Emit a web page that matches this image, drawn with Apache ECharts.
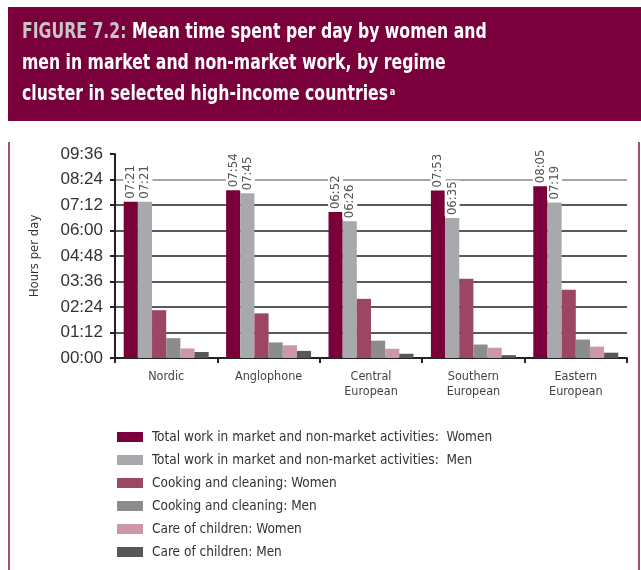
<!DOCTYPE html>
<html>
<head>
<meta charset="utf-8">
<script src="https://cdn.jsdelivr.net/npm/echarts@6/dist/echarts.min.js"></script>
<style>
  html, body { margin: 0; padding: 0; background: #fff; }
  #chart { width: 641px; height: 570px; }
</style>
</head>
<body>
<div id="chart"></div>
<script>
"use strict";

// categories and values (minutes per day)
var categories = ['Nordic', 'Anglophone', 'Central\nEuropean', 'Southern\nEuropean', 'Eastern\nEuropean'];
var seriesNames = [
    'Total work in market and non-market activities:  Women',
    'Total work in market and non-market activities:  Men',
    'Cooking and cleaning: Women',
    'Cooking and cleaning: Men',
    'Care of children: Women',
    'Care of children: Men'
];
var totalWomen = [441, 474, 412, 473, 485];
var totalMen = [441, 465, 386, 395, 439];
var cookWomen = [135, 126, 167, 224, 193];
var cookMen = [56, 44, 49, 38, 52];
var careWomen = [27, 36, 26, 29, 32];
var careMen = [17, 20, 12, 8, 15];

var colors = ['#7a003a', '#a8a9ad', '#9c4664', '#8b8c8e', '#cc97a8', '#58585a'];

var narrow = "'DejaVu Sans Condensed', 'DejaVu Sans', sans-serif";

function pad(n) { return (n < 10 ? '0' : '') + n; }
function fmtTime(v) { return pad(Math.floor(v / 60)) + ':' + pad(Math.round(v % 60)); }

var allData = [totalWomen, totalMen, cookWomen, cookMen, careWomen, careMen];

var series = allData.map(function (d, i) {
    var s = {
        name: seriesNames[i],
        type: 'bar',
        data: d,
        barGap: 0,
        barCategoryGap: '17%',
        itemStyle: { color: colors[i] },
        animation: false
    };
    if (i < 2) {
        s.label = {
            show: true,
            position: 'top',
            rotate: 90,
            align: 'left',
            verticalAlign: 'middle',
            distance: 2,
            fontFamily: narrow,
            fontSize: 13,
            color: '#555',
            backgroundColor: '#fff',
            padding: [1, 1, 1, 1],
            formatter: function (p) { return fmtTime(p.value); }
        };
    }
    return s;
});

var chart = echarts.init(document.getElementById('chart'));

var titleText = '{a|FIGURE 7.2:} Mean time spent per day by women and\nmen in market and non-market work, by regime\ncluster in selected high-income countries{sup|a}';

var option = {
    animation: false,
    graphic: [
        { type: 'rect', shape: { x: 8, y: 7, width: 633, height: 114 }, style: { fill: '#79003a' } },
        { type: 'rect', shape: { x: 8, y: 142, width: 2, height: 428 }, style: { fill: '#a34d74' } },
        { type: 'rect', shape: { x: 638, y: 142, width: 2, height: 428 }, style: { fill: '#a34d74' } },
        {
            type: 'text',
            x: 22,
            y: 17,
            scaleX: 0.83,
            style: {
                text: titleText,
                fill: '#fff',
                fontFamily: narrow,
                fontWeight: 'bold',
                fontSize: 21,
                lineHeight: 31,
                rich: {
                    a: { fill: '#c9c4c8', fontFamily: narrow, fontWeight: 'bold', fontSize: 21, lineHeight: 31 },
                    sup: { fill: '#fff', fontFamily: narrow, fontWeight: 'bold', fontSize: 11, lineHeight: 10, verticalAlign: 'bottom', padding: [0, 0, 12, 2] }
                }
            }
        }
    ],
    legend: {
        orient: 'vertical',
        left: 112,
        top: 424,
        itemWidth: 26,
        itemHeight: 10,
        itemGap: 7,
        icon: 'rect',
        data: seriesNames,
        selectedMode: false,
        textStyle: {
            fontFamily: narrow,
            fontSize: 13.5,
            lineHeight: 16,
            color: '#333',
            padding: [0, 0, 0, 4]
        }
    },
    grid: {
        left: 115,
        right: 14,
        top: 154,
        bottom: 212,
        containLabel: false
    },
    xAxis: {
        type: 'category',
        data: categories,
        axisLine: { lineStyle: { color: '#222', width: 2 } },
        axisTick: { show: true, length: 5, lineStyle: { color: '#222', width: 2 } },
        axisLabel: {
            fontFamily: narrow,
            fontSize: 12.5,
            lineHeight: 15,
            color: '#444',
            margin: 11
        }
    },
    yAxis: {
        type: 'value',
        min: 0,
        max: 576,
        interval: 72,
        name: 'Hours per day',
        nameLocation: 'middle',
        nameGap: 74,
        nameRotate: 90,
        nameTextStyle: { fontFamily: narrow, fontSize: 13, color: '#333' },
        axisLine: { show: true, lineStyle: { color: '#222', width: 2 } },
        axisTick: { show: true, length: 5, lineStyle: { color: '#222', width: 2 } },
        axisLabel: {
            fontFamily: "'Liberation Sans', sans-serif",
            fontSize: 17,
            color: '#333',
            margin: 12,
            formatter: function (v) { return fmtTime(v); }
        },
        splitLine: {
            show: true,
            lineStyle: {
                color: ['#222', '#222', '#222', '#222', '#222', '#222', '#222', '#888', 'rgba(0,0,0,0)'],
                width: 1.5
            }
        }
    },
    series: series
};

chart.setOption(option);
</script>
</body>
</html>
